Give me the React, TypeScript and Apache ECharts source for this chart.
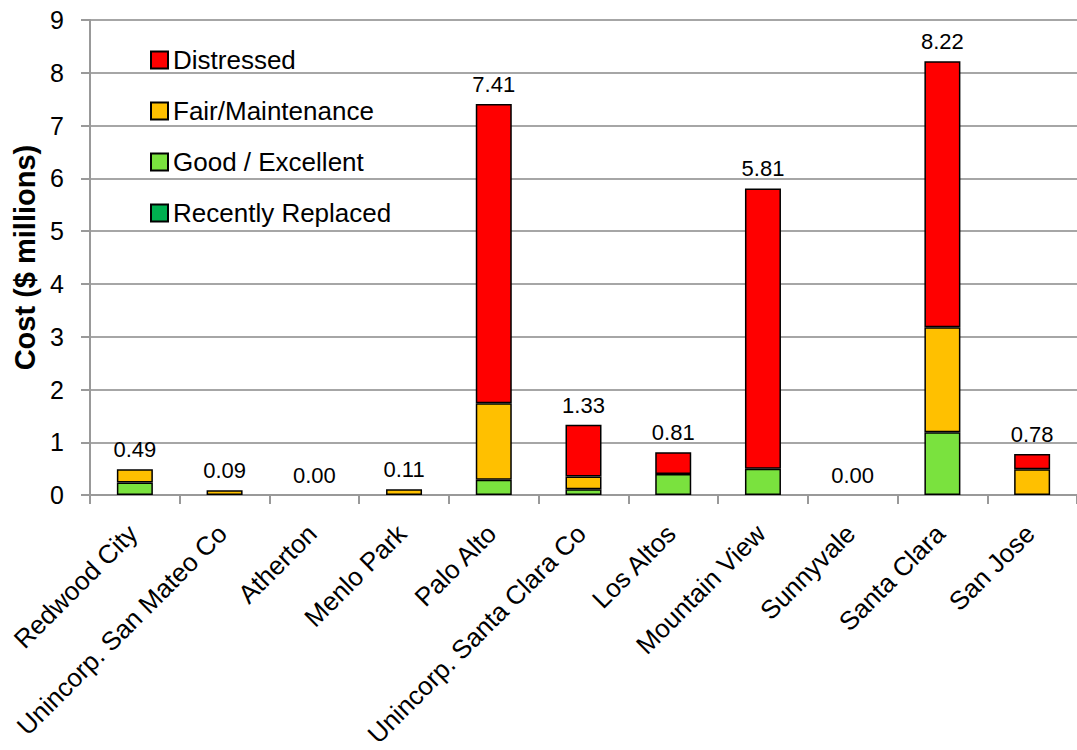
import React, { useEffect, useRef } from "react";
import * as echarts from "echarts";

const categories = [
  "Redwood City",
  "Unincorp. San Mateo Co",
  "Atherton",
  "Menlo Park",
  "Palo Alto",
  "Unincorp. Santa Clara Co",
  "Los Altos",
  "Mountain View",
  "Sunnyvale",
  "Santa Clara",
  "San Jose",
];

const recentlyReplaced = [0, 0, 0, 0, 0, 0, 0, 0, 0, 0, 0];
const goodExcellent = [0.24, 0, 0, 0, 0.29, 0.11, 0.4, 0.5, 0, 1.19, 0];
const fairMaintenance = [0.25, 0.09, 0, 0.11, 1.45, 0.24, 0, 0, 0, 1.99, 0.49];
const distressed = [0, 0, 0, 0, 5.67, 0.98, 0.41, 5.31, 0, 5.04, 0.29];
const totals = [0.49, 0.09, 0.0, 0.11, 7.41, 1.33, 0.81, 5.81, 0.0, 8.22, 0.78];

const yTicks = { min: 0, max: 9, interval: 1 };

const FONT = "'Liberation Sans', Arial, sans-serif";

const toBar = (arr: number[]) => arr.map((v) => (v === 0 ? "-" : v));

export default function App() {
  const ref = useRef<HTMLDivElement>(null);
  useEffect(() => {
    document.body.style.margin = "0";
    if (!ref.current) return;
    const chart = echarts.init(ref.current, undefined, { renderer: "svg" });
    const barItem = (color: string) => ({
      color,
      borderColor: "#000",
      borderWidth: 1.5,
    });
    chart.setOption({
      animation: false,
      backgroundColor: "#fff",
      textStyle: { fontFamily: FONT },
      grid: { left: 90, right: 0, top: 20, bottom: 254, containLabel: false },
      legend: {
        orient: "vertical",
        left: 150,
        top: 45,
        padding: 0,
        itemWidth: 17,
        itemHeight: 17,
        itemGap: 21,
        icon: "rect",
        data: ["Distressed", "Fair/Maintenance", "Good / Excellent", "Recently Replaced"],
        textStyle: { fontSize: 26, color: "#000", fontFamily: FONT, lineHeight: 30 },
      },
      xAxis: {
        type: "category",
        data: categories,
        axisLine: { lineStyle: { color: "#999", width: 2 } },
        axisTick: { show: true, length: 9, lineStyle: { color: "#999", width: 2 } },
        axisLabel: {
          interval: 0,
          rotate: 45,
          fontSize: 26,
          color: "#000",
          margin: 32,
          padding: [0, 3, 0, 0],
          fontFamily: FONT,
        },
      },
      yAxis: {
        type: "value",
        min: yTicks.min,
        max: yTicks.max,
        interval: yTicks.interval,
        name: "Cost ($ millions)",
        nameLocation: "middle",
        nameRotate: 90,
        nameGap: 50,
        nameTextStyle: { fontSize: 29, fontWeight: "bold", color: "#000", fontFamily: FONT },
        axisLine: { show: true, lineStyle: { color: "#999", width: 2 } },
        axisTick: { show: true, length: 9, lineStyle: { color: "#999", width: 2 } },
        axisLabel: { fontSize: 25, color: "#000", margin: 26, fontFamily: FONT },
        splitLine: { lineStyle: { color: "#A6A6A6", width: 2 } },
      },
      series: [
        {
          name: "Recently Replaced",
          type: "bar",
          stack: "cost",
          barWidth: 36,
          data: toBar(recentlyReplaced),
          itemStyle: barItem("#00B050"),
        },
        {
          name: "Good / Excellent",
          type: "bar",
          stack: "cost",
          barWidth: 36,
          data: toBar(goodExcellent),
          itemStyle: barItem("#7AE23E"),
        },
        {
          name: "Fair/Maintenance",
          type: "bar",
          stack: "cost",
          barWidth: 36,
          data: toBar(fairMaintenance),
          itemStyle: barItem("#FFC000"),
        },
        {
          name: "Distressed",
          type: "bar",
          stack: "cost",
          barWidth: 36,
          data: toBar(distressed),
          itemStyle: barItem("#FF0000"),
        },
        {
          name: "Total",
          type: "line",
          data: totals,
          symbol: "circle",
          symbolSize: 1,
          itemStyle: { color: "rgba(0,0,0,0)" },
          lineStyle: { opacity: 0 },
          silent: true,
          z: 10,
          label: {
            show: true,
            position: "top",
            distance: 8,
            fontSize: 22,
            color: "#000",
            fontFamily: FONT,
            formatter: (p: any) => Number(p.value).toFixed(2),
          },
        },
      ],
    });
    return () => chart.dispose();
  }, []);
  return <div ref={ref} style={{ width: 1077, height: 750 }} />;
}
